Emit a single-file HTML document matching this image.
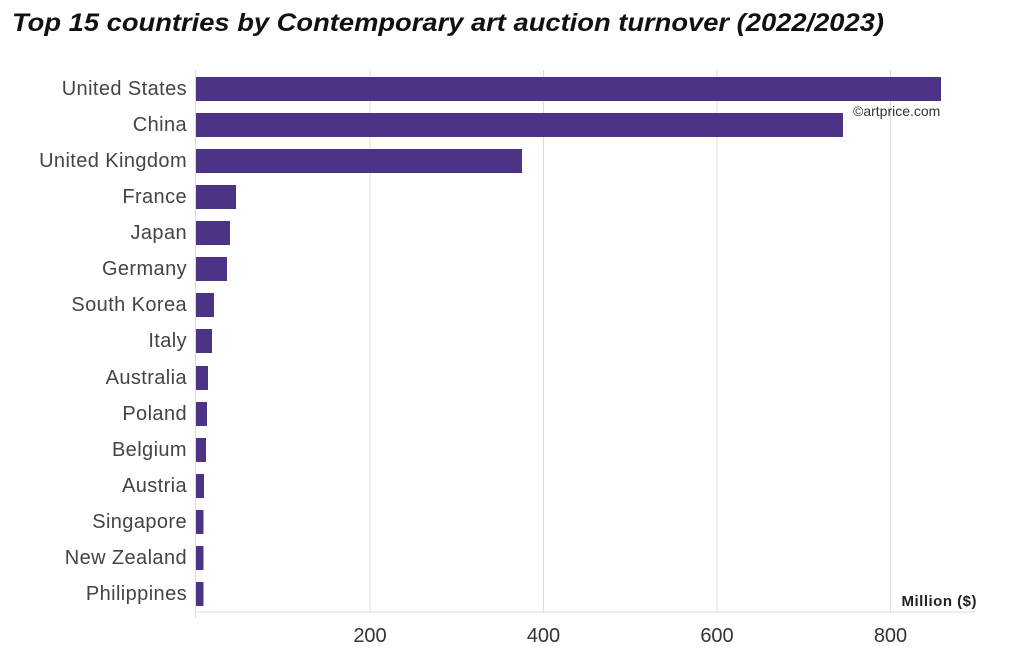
<!DOCTYPE html>
<html><head><meta charset="utf-8"><style>
body{margin:0;background:#fff;}
svg{display:block;font-family:"Liberation Sans",sans-serif;}
</style></head><body>
<svg width="1023" height="662" xmlns="http://www.w3.org/2000/svg">
<text x="12" y="31" font-size="25" font-weight="bold" font-style="italic" fill="#111" textLength="872" lengthAdjust="spacingAndGlyphs">Top 15 countries by Contemporary art auction turnover (2022/2023)</text>
<g stroke="#dcdcdc" stroke-width="1">
<line x1="370" y1="70" x2="370" y2="612"/>
<line x1="543.5" y1="70" x2="543.5" y2="612"/>
<line x1="717" y1="70" x2="717" y2="612"/>
<line x1="890.5" y1="70" x2="890.5" y2="612"/>
<line x1="195" y1="612" x2="975" y2="612"/>
<line x1="195.5" y1="70" x2="195.5" y2="618"/>
</g>
<g fill="#4d3386">
<rect x="196" y="77" width="745" height="24"/>
<rect x="196" y="113" width="647" height="24"/>
<rect x="196" y="149" width="326" height="24"/>
<rect x="196" y="185" width="40" height="24"/>
<rect x="196" y="221" width="34" height="24"/>
<rect x="196" y="257" width="31" height="24"/>
<rect x="196" y="293" width="18" height="24"/>
<rect x="196" y="329" width="16" height="24"/>
<rect x="196" y="366" width="12" height="24"/>
<rect x="196" y="402" width="11" height="24"/>
<rect x="196" y="438" width="10" height="24"/>
<rect x="196" y="474" width="8" height="24"/>
<rect x="196" y="510" width="7.5" height="24"/>
<rect x="196" y="546" width="7.5" height="24"/>
<rect x="196" y="582" width="7.5" height="24"/>
</g>
<g font-size="20" fill="#444" text-anchor="end" letter-spacing="0.4">
<text x="187" y="95">United States</text>
<text x="187" y="131">China</text>
<text x="187" y="167">United Kingdom</text>
<text x="187" y="203">France</text>
<text x="187" y="239">Japan</text>
<text x="187" y="275">Germany</text>
<text x="187" y="311">South Korea</text>
<text x="187" y="347">Italy</text>
<text x="187" y="384">Australia</text>
<text x="187" y="420">Poland</text>
<text x="187" y="456">Belgium</text>
<text x="187" y="492">Austria</text>
<text x="187" y="528">Singapore</text>
<text x="187" y="564">New Zealand</text>
<text x="187" y="600">Philippines</text>
</g>
<g font-size="20" fill="#333" text-anchor="middle">
<text x="370" y="642">200</text>
<text x="543.5" y="642">400</text>
<text x="717" y="642">600</text>
<text x="890.5" y="642">800</text>
</g>
<text x="853" y="116" font-size="14" fill="#333">©artprice.com</text>
<text x="977" y="606" font-size="15" font-weight="bold" fill="#222" text-anchor="end" letter-spacing="0.5">Million ($)</text>
</svg>
</body></html>
